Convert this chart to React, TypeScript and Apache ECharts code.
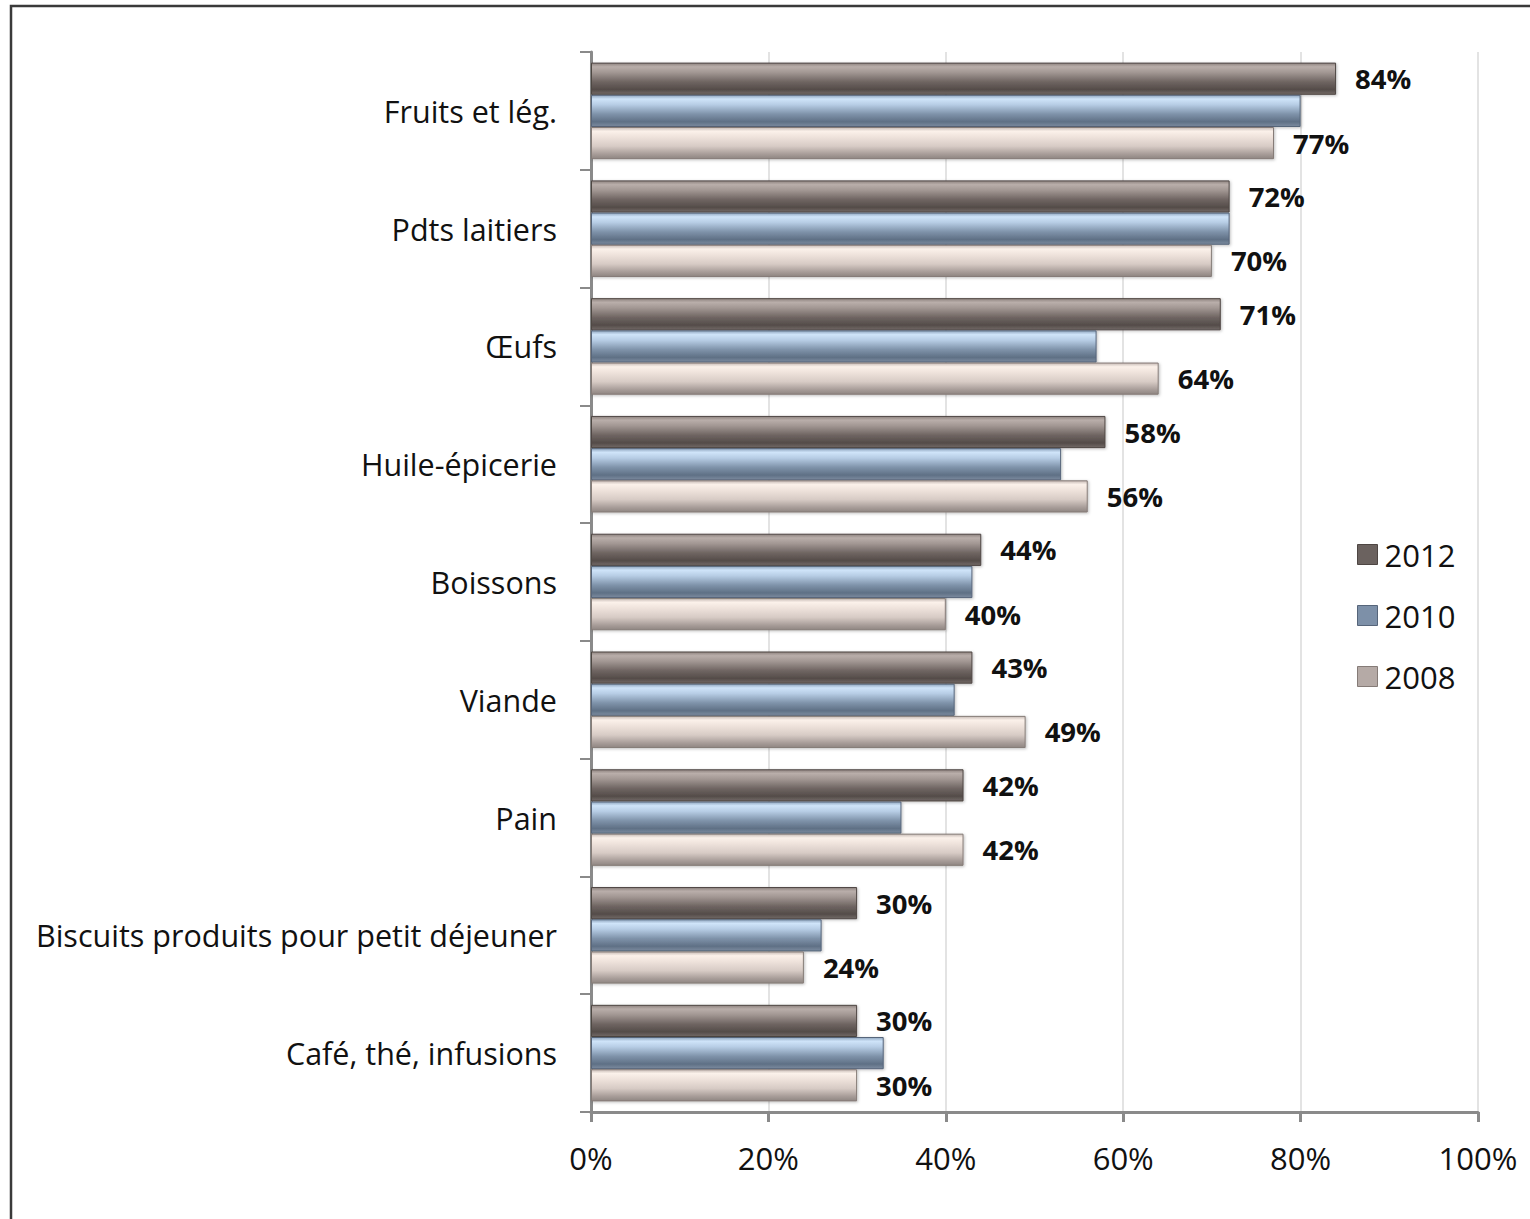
import React, { useEffect, useRef } from "react";
import * as echarts from "echarts";

const categories = [
  "Fruits et lég.",
  "Pdts laitiers",
  "Œufs",
  "Huile-épicerie",
  "Boissons",
  "Viande",
  "Pain",
  "Biscuits produits pour petit déjeuner",
  "Café, thé, infusions",
];
const seriesNames = ["2012", "2010", "2008"];
const values2012 = [84, 72, 71, 58, 44, 43, 42, 30, 30];
const values2010 = [80, 72, 57, 53, 43, 41, 35, 26, 33];
const values2008 = [77, 70, 64, 56, 40, 49, 42, 24, 30];
const xTicks = [0, 20, 40, 60, 80, 100];

const FONT = "'Open Sans', 'Liberation Sans', sans-serif";

function grad(stops: [number, string][]) {
  return new echarts.graphic.LinearGradient(
    0, 0, 0, 1,
    stops.map(([offset, color]) => ({ offset, color }))
  );
}

const fills = [
  grad([[0, "#8f8480"], [0.12, "#b9aeaa"], [0.3, "#a29793"], [0.6, "#6f6562"], [0.85, "#544c49"], [1, "#736a67"]]),
  grad([[0, "#90a6bf"], [0.12, "#cfe4f9"], [0.3, "#b7cde5"], [0.6, "#7f93aa"], [0.85, "#5f7085"], [1, "#7c8ca0"]]),
  grad([[0, "#c7bbb6"], [0.12, "#fbf1ea"], [0.3, "#efe3dc"], [0.6, "#d7cbc5"], [0.85, "#a89d99"], [1, "#8f8682"]]),
];
const borders = ["#4e4643", "#56657a", "#857b77"];
const legendColors = ["#6b625f", "#7d90a8", "#b5aaa6"];

export default function App() {
  const ref = useRef<HTMLDivElement>(null);
  useEffect(() => {
    if (!ref.current) return;
    const chart = echarts.init(ref.current, null, { renderer: "svg" });
    const data = [values2012, values2010, values2008];
    chart.setOption({
      animation: false,
      backgroundColor: "#ffffff",
      textStyle: { fontFamily: FONT },
      graphic: [
        {
          type: "rect",
          shape: { x: 11, y: 6, width: 1540, height: 1300 },
          style: { fill: "none", stroke: "#3a3a3a", lineWidth: 2.5 },
          z: 100,
          silent: true,
        },
      ],
      legend: {
        orient: "vertical",
        left: 1352,
        top: 534,
        itemWidth: 20,
        itemHeight: 20,
        itemGap: 30,
        icon: "rect",
        data: seriesNames.map((n, i) => ({
          name: n,
          itemStyle: { color: legendColors[i], borderColor: borders[i], borderWidth: 1 },
        })),
        textStyle: { fontSize: 31, color: "#111", fontFamily: FONT, padding: [0, 0, 0, 2] },
      },
      grid: { left: 591, right: 52, top: 52, bottom: 107, containLabel: false },
      xAxis: {
        type: "value",
        min: 0,
        max: 100,
        interval: 20,
        axisLine: { show: true, lineStyle: { color: "#8a8a8a", width: 3 } },
        axisTick: { show: true, length: 10, lineStyle: { color: "#8a8a8a", width: 3 } },
        splitLine: { show: true, lineStyle: { color: "#e3e3e3", width: 2 } },
        axisLabel: {
          formatter: (v: number) => (xTicks.includes(v) ? v + "%" : ""),
          fontSize: 31,
          color: "#111",
          margin: 30,
          fontFamily: FONT,
        },
      },
      yAxis: {
        type: "category",
        inverse: true,
        data: categories,
        axisLine: { show: true, lineStyle: { color: "#8a8a8a", width: 3 } },
        axisTick: { show: true, length: 11, lineStyle: { color: "#8a8a8a", width: 2 } },
        axisLabel: { fontSize: 30.5, color: "#111", margin: 34, fontFamily: FONT },
        splitLine: { show: false },
      },
      series: seriesNames.map((name, i) => ({
        name,
        type: "bar",
        data: data[i],
        barGap: "0%",
        barCategoryGap: "18%",
        itemStyle: {
          color: fills[i],
          borderColor: borders[i],
          borderWidth: 1,
          shadowColor: "rgba(0,0,0,0.25)",
          shadowBlur: 3,
          shadowOffsetX: 1,
          shadowOffsetY: 1,
        },
        label: {
          show: i !== 1,
          position: "right",
          distance: 19,
          formatter: "{c}%",
          fontSize: 27.5,
          fontWeight: "bold",
          color: "#111",
          fontFamily: FONT,
        },
      })),
    });
    return () => chart.dispose();
  }, []);
  return (
    <div
      ref={ref}
      style={{ position: "absolute", left: 0, top: 0, width: 1530, height: 1219 }}
    />
  );
}
